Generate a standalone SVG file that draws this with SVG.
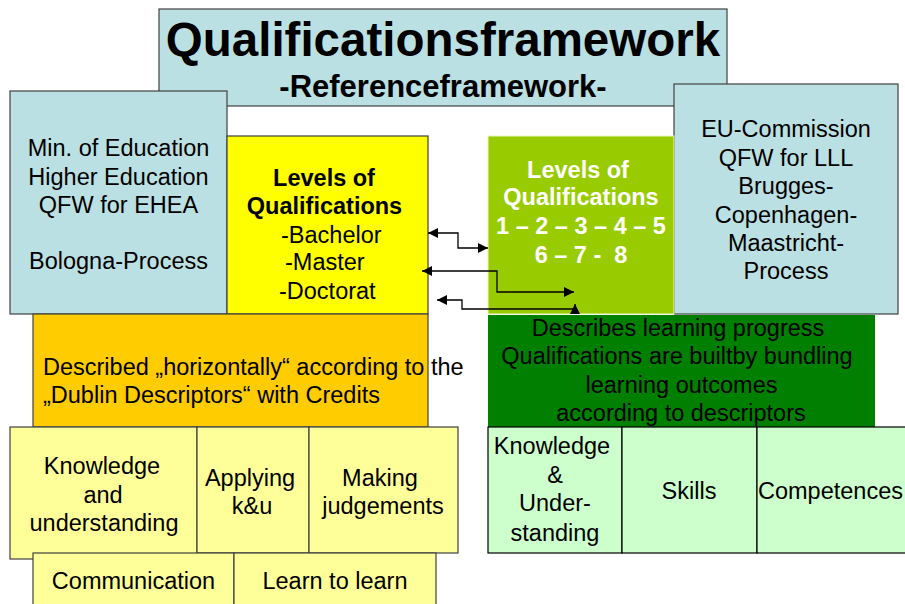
<svg xmlns="http://www.w3.org/2000/svg" width="905" height="604" viewBox="0 0 905 604">
<style>
text{font-family:"Liberation Sans",Arial,sans-serif;font-size:23.5px;fill:#000}
.c{text-anchor:middle}
.b{font-weight:bold}
.w{fill:#fff}
.box{stroke:#404040;stroke-width:1.2}
.blue{fill:#bbe0e3}
.yel{fill:#ffff00}
.org{fill:#ffcc00}
.ly{fill:#ffff99}
.lg{fill:#ccffcc;stroke:#000;stroke-width:1.2}
.conn{fill:none;stroke:#000;stroke-width:1.3}
</style>
<defs>
<marker id="ah" viewBox="0 0 10 10" refX="10" refY="5" markerWidth="11" markerHeight="10" markerUnits="userSpaceOnUse" orient="auto-start-reverse">
<path d="M0,0 L10,5 L0,10 z" fill="#000"/>
</marker>
</defs>
<rect width="905" height="604" fill="#fff"/>

<g id="title">
<rect class="box blue" x="159" y="9" width="568" height="97"/>
<text class="c b" x="443" y="56" style="font-size:47.5px">Qualificationsframework</text>
<text class="c b" x="443" y="97" style="font-size:31px">-Referenceframework-</text>
</g>

<g id="min-education">
<rect class="box blue" x="10" y="91" width="217" height="223"/>
<text class="c" x="118.5" y="156">Min. of Education</text>
<text class="c" x="118.5" y="185">Higher Education</text>
<text class="c" x="118.5" y="213">QFW for EHEA</text>
<text class="c" x="118.5" y="269">Bologna-Process</text>
</g>

<g id="eu-commission">
<rect class="box blue" x="674" y="84" width="224" height="230"/>
<text class="c" x="786" y="137">EU-Commission</text>
<text class="c" x="786" y="166">QFW for LLL</text>
<text class="c" x="786" y="194">Brugges-</text>
<text class="c" x="786" y="223">Copenhagen-</text>
<text class="c" x="786" y="251">Maastricht-</text>
<text class="c" x="786" y="279">Process</text>
</g>

<g id="levels-bologna">
<rect class="box yel" x="227" y="136" width="201" height="178"/>
<text class="c b" x="324" y="186">Levels of</text>
<text class="c b" x="324.5" y="214">Qualifications</text>
<text x="281" y="243">-Bachelor</text>
<text x="285" y="270">-Master</text>
<text x="279" y="299">-Doctorat</text>
</g>

<g id="levels-eqf">
<rect x="488" y="136" width="186" height="178" fill="#99cc00" stroke="#e8f5c8" stroke-width="1"/>
<text class="c b w" x="578" y="178">Levels of</text>
<text class="c b w" x="581" y="205">Qualifications</text>
<text class="c b w" x="581" y="234">1 – 2 – 3 – 4 – 5</text>
<text class="c b w" x="581" y="263" xml:space="preserve">6 – 7 -  8</text>
</g>

<g id="dublin">
<rect class="box org" x="33" y="314" width="395" height="113"/>
<text x="43" y="375">Described „horizontally“ according to the</text>
<text x="43" y="403">„Dublin Descriptors“ with Credits</text>
</g>

<g id="learning-progress">
<rect x="488" y="315" width="387" height="112" fill="#007f00"/>
<text class="c" x="678" y="336">Describes learning progress</text>
<text class="c" x="677" y="364">Qualifications are builtby bundling</text>
<text class="c" x="681.5" y="393">learning outcomes</text>
<text class="c" x="681" y="421">according to descriptors</text>
</g>

<g id="knowledge-understanding">
<rect class="box ly" x="10" y="427" width="187" height="132"/>
<text class="c" x="102" y="474">Knowledge</text>
<text class="c" x="103" y="503">and</text>
<text class="c" x="104" y="531">understanding</text>
</g>

<g id="applying">
<rect class="box ly" x="197" y="427" width="112" height="126"/>
<text class="c" x="250" y="486">Applying</text>
<text class="c" x="252" y="514">k&amp;u</text>
</g>

<g id="judgements">
<rect class="box ly" x="309" y="427" width="149" height="126"/>
<text class="c" x="380" y="486">Making</text>
<text class="c" x="383" y="514">judgements</text>
</g>

<g id="communication">
<rect class="box ly" x="33" y="553" width="201" height="60"/>
<text class="c" x="133.5" y="589">Communication</text>
</g>

<g id="learn-to-learn">
<rect class="box ly" x="234" y="553" width="202" height="60"/>
<text class="c" x="335" y="589">Learn to learn</text>
</g>

<g id="knowledge-eqf">
<rect class="lg" x="488" y="427" width="134" height="126"/>
<text class="c" x="552" y="454">Knowledge</text>
<text class="c" x="555" y="483">&amp;</text>
<text class="c" x="555" y="511">Under-</text>
<text class="c" x="555" y="541">standing</text>
</g>

<g id="skills">
<rect class="lg" x="622" y="427" width="135" height="126"/>
<text class="c" x="689" y="499">Skills</text>
</g>

<g id="competences">
<rect class="lg" x="757" y="427" width="160" height="126"/>
<text x="758" y="499">Competences</text>
</g>

<g id="connectors">
<path class="conn" d="M428,233 H458 V248 H488" marker-start="url(#ah)" marker-end="url(#ah)"/>
<path class="conn" d="M422,271 H497 V292 H574" marker-start="url(#ah)" marker-end="url(#ah)"/>
<path class="conn" d="M437,300 H462 V309 H575 V304" marker-start="url(#ah)" marker-end="url(#ah)"/>
</g>
</svg>
